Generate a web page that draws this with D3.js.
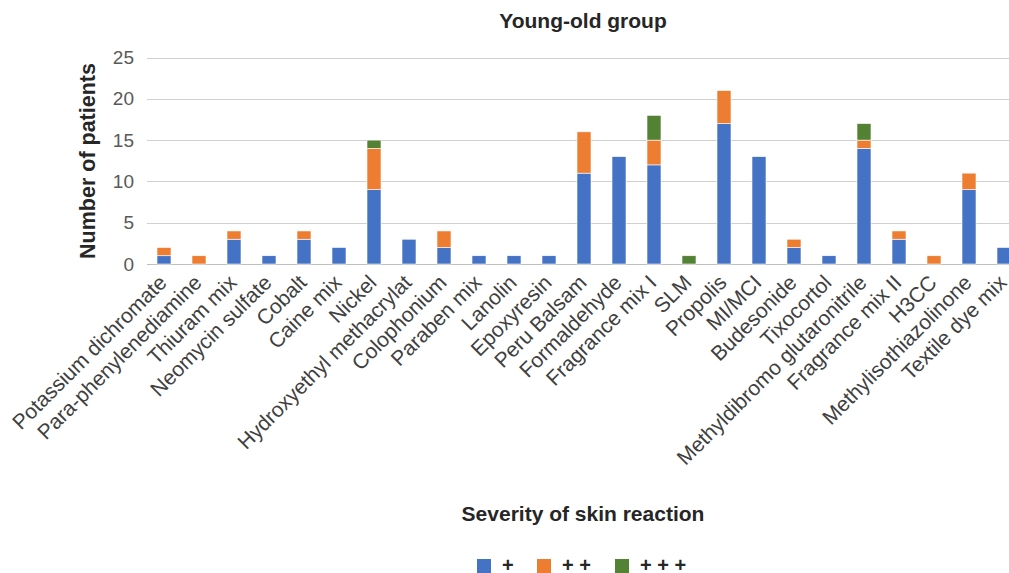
<!DOCTYPE html>
<html>
<head>
<meta charset="utf-8">
<script src="https://cdn.jsdelivr.net/npm/d3@7"></script>
<style>
  html, body { margin: 0; padding: 0; background: #fff; overflow: hidden; }
  svg { display: block; font-family: "Liberation Sans", Arial, sans-serif; }
</style>
</head>
<body>
<svg id="chart" width="1009" height="573"></svg>
<script>
const categories = ["Potassium dichromate","Para-phenylenediamine","Thiuram mix","Neomycin sulfate","Cobalt","Caine mix","Nickel","Hydroxyethyl methacrylat","Colophonium","Paraben mix","Lanolin","Epoxyresin","Peru Balsam","Formaldehyde","Fragrance mix I","SLM","Propolis","MI/MCI","Budesonide","Tixocortol","Methyldibromo glutaronitrile","Fragrance mix II","H3CC","Methylisothiazolinone","Textile dye mix"];
const plus1 = [1,0,3,1,3,2,9,3,2,1,1,1,11,13,12,0,17,13,2,1,14,3,0,9,2];
const plus2 = [1,1,1,0,1,0,5,0,2,0,0,0,5,0,3,0,4,0,1,0,1,1,1,2,0];
const plus3 = [0,0,0,0,0,0,1,0,0,0,0,0,0,0,3,1,0,0,0,0,2,0,0,0,0];
const seriesNames = ["+", "+ +", "+ + +"];
const seriesColors = ["#4472C4", "#ED7D31", "#548235"];
const yTicks = [0,5,10,15,20,25];
const chartTitle = "Young-old group";
const xTitle = "Severity of skin reaction";
const yTitle = "Number of patients";

const svg = d3.select("#chart");
const left = 146.5, step = 35;
const x = d3.scaleBand().domain(categories).range([left, left + step * categories.length]).paddingInner(0.6).paddingOuter(0.3);
const y = d3.scaleLinear().domain([0, 25]).range([264, 57.5]);

// gridlines
svg.append("g").selectAll("line").data(yTicks).join("line")
  .attr("x1", 147).attr("x2", 1009)
  .attr("y1", d => Math.round(y(d)) + 0.5).attr("y2", d => Math.round(y(d)) + 0.5)
  .attr("stroke", d => d === 0 ? "#bfbfbf" : "#d0d0d0").attr("stroke-width", 1.2);

// y tick labels
svg.append("g").selectAll("text").data(yTicks).join("text")
  .attr("x", 134).attr("y", d => y(d)).attr("dy", "0.35em")
  .attr("text-anchor", "end").attr("font-size", 19).attr("fill", "#595959")
  .text(d => d);

// stacked bars
const table = categories.map((c, i) => ({cat: c, s0: plus1[i], s1: plus2[i], s2: plus3[i]}));
const stack = d3.stack().keys(["s0", "s1", "s2"])(table);
svg.append("g").selectAll("g").data(stack).join("g")
  .attr("fill", (d, i) => seriesColors[i])
  .selectAll("rect").data(d => d.filter(p => p[1] - p[0] > 0)).join("rect")
  .attr("x", d => x(d.data.cat))
  .attr("width", x.bandwidth())
  .attr("y", d => y(d[1]))
  .attr("height", d => y(d[0]) - y(d[1]))
  .attr("stroke", "#ffffff").attr("stroke-width", 0.6);

// x labels
svg.append("g").selectAll("text").data(categories).join("text")
  .attr("transform", d => `translate(${x(d) + x.bandwidth() / 2 - 5},275) rotate(-45)`)
  .attr("text-anchor", "end").attr("dy", "0.6em")
  .attr("font-size", 21).attr("fill", "#404040")
  .text(d => d);

// titles
svg.append("text").attr("x", 583).attr("y", 28).attr("text-anchor", "middle")
  .attr("font-size", 21).attr("font-weight", "bold").attr("fill", "#262626").text(chartTitle);
svg.append("text").attr("x", 583).attr("y", 521).attr("text-anchor", "middle")
  .attr("font-size", 21).attr("font-weight", "bold").attr("fill", "#262626").text(xTitle);
svg.append("text").attr("transform", "translate(95,161) rotate(-90)").attr("text-anchor", "middle")
  .attr("font-size", 21.5).attr("font-weight", "bold").attr("fill", "#262626").text(yTitle);

// legend
const legendX = [477, 537, 615];
const lg = svg.append("g").selectAll("g").data(seriesNames).join("g")
  .attr("transform", (d, i) => `translate(${legendX[i]},559)`);
lg.append("rect").attr("width", 14).attr("height", 14).attr("fill", (d, i) => seriesColors[i]);
lg.append("text").attr("x", 25).attr("y", 6).attr("dy", "0.35em")
  .attr("font-size", 20).attr("font-weight", "bold").attr("fill", "#262626")
  .text(d => d);
</script>
</body>
</html>
